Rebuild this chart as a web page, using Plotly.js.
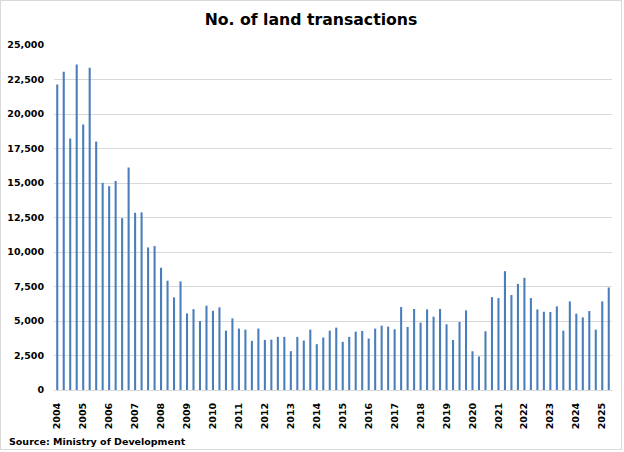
<!DOCTYPE html>
<html>
<head>
<meta charset="utf-8">
<script src="https://cdn.plot.ly/plotly-3.0.1.min.js"></script>
<style>
  html, body { margin: 0; padding: 0; background: #fff; }
  #wrap { position: absolute; left: 0; top: 0; width: 620px; height: 448px; border: 1px solid #d9d9d9; }
  #chart { width: 620px; height: 448px; }
</style>
</head>
<body>
<div id="wrap"><div id="chart"></div></div>
<script>
// Year tick labels (one per Q1)
const years = ["2004","2005","2006","2007","2008","2009","2010","2011","2012","2013","2014",
               "2015","2016","2017","2018","2019","2020","2021","2022","2023","2024","2025"];

// Quarterly number of land transactions, 2004 Q1 - 2025 Q2
const transactions = [
  22130, 23070, 18220, 23580,   // 2004
  19240, 23360, 18000, 15010,   // 2005
  14770, 15150, 12450, 16120,   // 2006
  12840, 12870, 10330, 10430,   // 2007
  8860, 7920, 6710, 7870,       // 2008
  5550, 5860, 5000, 6110,       // 2009
  5740, 5990, 4300, 5190,       // 2010
  4450, 4375, 3560, 4450,       // 2011
  3630, 3650, 3850, 3850,       // 2012
  2810, 3850, 3580, 4375,       // 2013
  3320, 3800, 4300, 4520,       // 2014
  3490, 3850, 4230, 4280,       // 2015
  3730, 4450, 4660, 4590,       // 2016
  4400, 6010, 4570, 5870,       // 2017
  4880, 5840, 5310, 5870,       // 2018
  4760, 3630, 4930, 5770,       // 2019
  2810, 2430, 4255, 6730,       // 2020
  6660, 8610, 6880, 7690,       // 2021
  8130, 6660, 5840, 5670,       // 2022
  5650, 6060, 4300, 6420,       // 2023
  5530, 5265, 5720, 4375,       // 2024
  6420, 7430                    // 2025
];

const quarterIndex = transactions.map((v, i) => i);
const yearTickPositions = years.map((y, i) => i * 4);

const boldFont = { family: "DejaVu Sans", size: 9.5, color: "#000000", weight: "bold" };

const trace = {
  type: "bar",
  x: quarterIndex,
  y: transactions,
  marker: { color: "#4A7EBB", line: { width: 0 } },
  hoverinfo: "y"
};

const layout = {
  width: 620,
  height: 448,
  paper_bgcolor: "#ffffff",
  plot_bgcolor: "#ffffff",
  margin: { l: 52.5, r: 8.7, t: 43.7, b: 58.7, pad: 0 },
  bargap: 0.68,
  showlegend: false,
  title: {
    text: "No. of land transactions",
    font: { family: "DejaVu Sans", size: 15.7, color: "#000000", weight: "bold" },
    x: 0.5, xref: "container", xanchor: "center",
    y: 0.9576, yref: "container", yanchor: "middle"
  },
  xaxis: {
    type: "linear",
    range: [-0.5, transactions.length - 0.5],
    tickmode: "array",
    tickvals: yearTickPositions,
    ticktext: years,
    tickangle: -90,
    tickfont: boldFont,
    ticks: "",
    ticklabelstandoff: 8,
    showgrid: false,
    zeroline: false,
    showline: true,
    linecolor: "#d9d9d9",
    linewidth: 1,
    fixedrange: true
  },
  yaxis: {
    range: [0, 25000],
    dtick: 2500,
    tick0: 0,
    tickformat: ",d",
    tickfont: boldFont,
    ticks: "",
    ticklabelstandoff: 9,
    showgrid: true,
    gridcolor: "#d9d9d9",
    gridwidth: 1,
    zeroline: false,
    showline: false,
    fixedrange: true
  },
  annotations: [{
    text: "Source: Ministry of Development",
    xref: "paper", yref: "paper",
    x: -0.085, y: -0.148,
    xanchor: "left", yanchor: "middle",
    showarrow: false,
    font: boldFont
  }]
};

Plotly.newPlot("chart", [trace], layout, { displayModeBar: false, staticPlot: true });
</script>
</body>
</html>
